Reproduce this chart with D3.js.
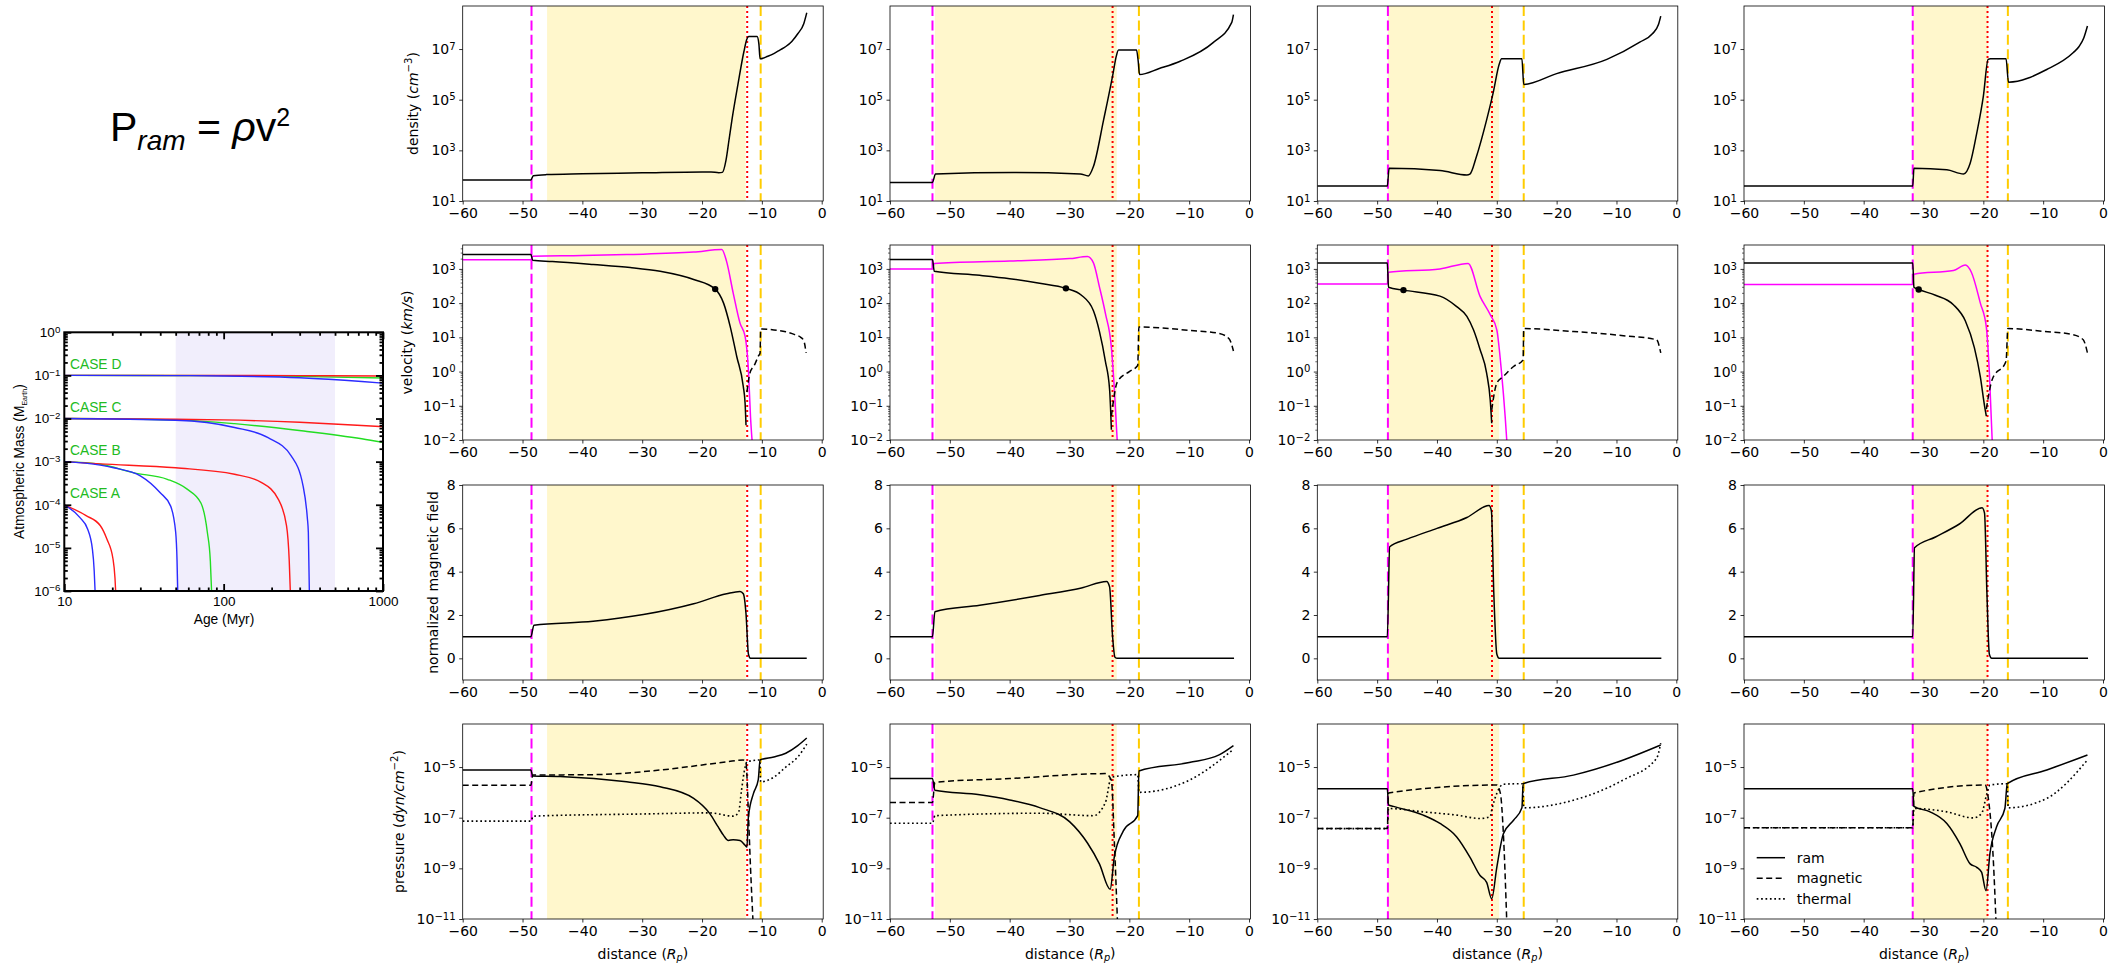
<!DOCTYPE html>
<html><head><meta charset="utf-8">
<script src="https://cdn.jsdelivr.net/npm/d3@7"></script>
<style>
body{margin:0;background:#fff;}
svg{display:block;font-family:"DejaVu Sans",sans-serif;}
</style></head><body>
<svg id="fig" width="2121" height="965"></svg>
<script>
// ---------------- inset: atmospheric mass vs age ----------------
const ageTicks = [10, 100, 1000];
const massTickExp = [0, -1, -2, -3, -4, -5, -6];
const caseNames = ["CASE D", "CASE C", "CASE B", "CASE A"];
const youngAgeBand = [50, 500];

const massDRed   = [[10,0.100],[300,0.099],[1000,0.097]];
const massDGreen = [[10,0.100],[100,0.099],[300,0.095],[1000,0.087]];
const massDBlue  = [[10,0.100],[50,0.099],[100,0.097],[300,0.088],[736,0.072],[1000,0.066]];
const massCRed   = [[10,0.0100],[50,0.0096],[100,0.0093],[300,0.0082],[736,0.0069],[1000,0.0065]];
const massCGreen = [[10,0.0100],[50,0.0093],[117,0.0076],[308,0.0052],[736,0.0034],[1000,0.0028]];
const massCBlue  = [[10,0.0100],[50,0.0091],[117,0.0062],[190,0.0036],[266,0.00135],[315,2.75e-4],[335,5e-5],[340,2.3e-5],[345,1e-6]];
const massBRed   = [[10,1e-3],[16.8,8.9e-4],[50,7.2e-4],[117,5.1e-4],[172,3.3e-4],[220,1.35e-4],[248,3.3e-5],[258,5e-6],[262,1e-6]];
const massBGreen = [[10,1e-3],[16.8,8.7e-4],[27.3,5.5e-4],[44.3,3.9e-4],[59,2.3e-4],[72,1.1e-4],[79,2.3e-5],[82.5,5e-6],[84,1e-6]];
const massBBlue  = [[10,1e-3],[16.8,8.3e-4],[20.4,7.2e-4],[30,4.7e-4],[40,1.9e-4],[46.5,9.3e-5],[50,2.3e-5],[51,5e-6],[51.5,1e-6]];
const massARed   = [[10,1e-4],[13.7,5.6e-5],[16.8,3.3e-5],[18.5,1.6e-5],[20.2,5.6e-6],[20.8,2e-6],[21,1e-6]];
const massABlue  = [[10,1e-4],[12.5,5.1e-5],[14,2.75e-5],[15,9.5e-6],[15.4,3e-6],[15.6,1e-6]];

// ---------------- main grid: profiles along the distance axis ----------------
const xTickVals = [-60, -50, -40, -30, -20, -10, 0];
const densityExp = [1, 3, 5, 7];
const velocityExp = [-2, -1, 0, 1, 2, 3];
const pressureExp = [-11, -9, -7, -5];
const fieldTicks = [0, 2, 4, 6, 8];

// boundary positions for the four cases (A..D)
const shockX    = [-48.5, -52.9, -48.2, -31.8];
const spanStart = [-45.9, -52.5, -48.2, -31.7];
const spanEnd   = [-12.7, -22.1, -29.6, -19.2];
const innerX    = [-12.45, -22.8, -30.8, -19.3];
const outerX    = [-10.2, -18.4, -25.5, -15.9];

// density (cm^-3)
const densA = [[-60,68],[-48.6,68],[-48.2,100],[-46,110],[-40,118],[-30,129],[-20,141],[-18.5,141],[-17.2,130],[-16.6,135],[-16.0,400],[-15.5,2.5e3],[-15.0,1.6e4],[-14.0,4e5],[-13.0,8e6],[-12.5,2.5e7],[-12.2,3.1e7],[-10.8,3.1e7],[-10.5,1.6e7],[-10.3,4.1e6],[-9,5.2e6],[-8,6.6e6],[-7,9.1e6],[-6,1.26e7],[-5,2e7],[-4,4e7],[-3,1e8],[-2.5,2.7e8]];
const densB = [[-60,54],[-52.9,54],[-52.4,117],[-39.4,132],[-28.2,117],[-26.85,98],[-26.0,230],[-24.3,1.6e4],[-22.7,1.15e6],[-22.2,5e6],[-21.8,9.1e6],[-18.8,9.1e6],[-18.5,3e6],[-18.3,9.8e5],[-15,1.7e6],[-11.5,3.3e6],[-6.0,1.8e7],[-2.9,1.1e8],[-2.6,2.3e8]];
const densC = [[-60,39],[-48.3,39],[-48.0,195],[-39.5,160],[-35.0,107],[-34.5,115],[-33.4,575],[-31.7,1.6e4],[-30.6,1.9e5],[-29.6,2.5e6],[-29.2,4.1e6],[-25.8,4.1e6],[-25.5,4e5],[-20,1.07e6],[-11.6,3.9e6],[-6.1,1.86e7],[-4,4e7],[-3,9e7],[-2.6,2e8]];
const densD = [[-60,39],[-31.8,39],[-31.6,195],[-26.1,170],[-23.3,117],[-22.2,309],[-21.1,4.8e3],[-20.0,1.35e5],[-19.2,3.9e6],[-18.8,4.1e6],[-16.2,4.1e6],[-15.8,4.9e5],[-9.4,1.55e6],[-5.0,7.1e6],[-4,1.26e7],[-3.2,2.8e7],[-2.6,8.1e7]];

// velocity (km/s): flow speed, comparison speed (magenta), inner flow (dashed)
const velA = [[-60,2630],[-48.6,2630],[-48.3,1780],[-45,1650],[-38.2,1350],[-32,1100],[-27,850],[-21.4,490],[-17.8,257],[-16.4,100],[-15.3,21],[-14.2,2.75],[-13.1,0.36],[-12.8,0.117],[-12.65,0.027]];
const velB = [[-60,1900],[-52.9,1900],[-52.6,850],[-45,650],[-40,520],[-35,380],[-30.6,270],[-28,170],[-26,60],[-25,15],[-24,2],[-23.3,0.3],[-23.0,0.02]];
const velC = [[-60,1500],[-48.3,1500],[-48.1,290],[-45.6,240],[-39.5,160],[-36.7,79],[-35.0,41],[-33.9,16.6],[-32.8,4.4],[-31.7,0.9],[-31.1,0.148],[-30.85,0.031]];
const velD = [[-60,1500],[-31.8,1500],[-31.6,290],[-30.8,250],[-28,170],[-25,90],[-23,30],[-21.5,5],[-20.5,0.7],[-19.8,0.1],[-19.5,0.05]];
const velDot = [[-17.8,257],[-30.6,270],[-45.6,240],[-30.8,250]];
const velMagA = [[-60,1860],[-48.6,1860],[-48.3,2340],[-40,2450],[-32.6,2630],[-21.4,3100],[-16.7,3700],[-15.9,1660],[-14.8,200],[-13.65,26],[-12.8,10.7],[-12.25,1.1],[-11.9,0.048],[-11.6,0.008]];
const velMagB = [[-60,1000],[-52.9,1000],[-52.6,1450],[-40,1700],[-30,2000],[-27,2300],[-26,1500],[-25,300],[-24,50],[-23,5],[-22.5,0.3],[-22,0.008]];
const velMagC = [[-60,360],[-48.3,360],[-48.1,800],[-39.5,1000],[-34.8,1450],[-32.8,158],[-31.1,46],[-30.0,16.6],[-29.2,0.9],[-28.6,0.048],[-28.3,0.008]];
const velMagD = [[-60,350],[-31.8,350],[-31.6,700],[-25,900],[-23,1300],[-22,800],[-20.5,100],[-19.5,20],[-19,1],[-18.5,0.008]];
const velDashA = [[-12.5,0.25],[-12.0,0.9],[-11.2,1.6],[-10.6,2.8],[-10.3,3.5],[-10.2,17.5],[-8,16.5],[-6,14.5],[-4.5,12],[-3.5,10],[-3.0,8],[-2.6,3.5]];
const velDashB = [[-23,0.05],[-22,0.5],[-20,1.0],[-18.6,1.5],[-18.4,20],[-10,16],[-5,13],[-3.3,9],[-2.6,4]];
const velDashC = [[-30.85,0.076],[-30.0,0.46],[-28.9,0.72],[-27.2,1.41],[-25.6,2.2],[-25.5,18],[-17.2,14.8],[-8.85,11.2],[-3.3,8.5],[-2.6,3.5]];
const velDashD = [[-19.5,0.08],[-18.5,0.6],[-16.2,2],[-15.9,18],[-10,15],[-5,12],[-3.3,8.5],[-2.6,3.5]];

// normalized magnetic field
const fieldA = [[-60,1],[-48.6,1],[-48.1,1.53],[-38.2,1.71],[-29.8,2.02],[-21.4,2.52],[-15.9,2.98],[-13.65,3.09],[-13.1,2.98],[-12.65,2.05],[-12.25,0.2],[-11.9,0],[-2.5,0]];
const fieldB = [[-60,1],[-52.9,1],[-52.5,2.15],[-45,2.45],[-35,2.9],[-28,3.25],[-23.8,3.55],[-23.3,3.3],[-22.8,1.0],[-22.4,0.05],[-22,0],[-2.5,0]];
const fieldC = [[-60,1],[-48.3,1],[-47.9,5.15],[-45,5.5],[-40,6.0],[-35,6.5],[-31.3,7.05],[-30.9,6.8],[-30.5,3],[-30.0,0.2],[-29.6,0],[-2.5,0]];
const fieldD = [[-60,1],[-31.8,1],[-31.5,5.1],[-28,5.6],[-24,6.2],[-20.2,6.95],[-19.8,6.7],[-19.4,3],[-19,0.2],[-18.6,0],[-2.5,0]];

// pressure (dyn/cm^-2): ram, magnetic, thermal
const ramA = [[-60,7.6e-6],[-48.6,7.6e-6],[-48.3,4.4e-6],[-43.7,4.2e-6],[-32.6,2.6e-6],[-27,1.66e-6],[-21.4,5.8e-7],[-18.7,1.45e-7],[-17.3,4.3e-8],[-16.4,2e-8],[-15.6,1.26e-8],[-14.8,1.35e-8],[-13.65,1.26e-8],[-12.8,8.1e-9],[-12.5,6.9e-9],[-12.25,1.07e-7],[-11.4,9.1e-7],[-10.6,3.2e-6],[-10.3,1.9e-5],[-8,2.5e-5],[-6,3.5e-5],[-4,7e-5],[-2.5,1.4e-4]];
const ramB = [[-60,3.5e-6],[-52.9,3.5e-6],[-52.5,1.2e-6],[-45,8e-7],[-40,5e-7],[-35,2.5e-7],[-30,7e-8],[-27,1e-8],[-25,1.5e-9],[-23.2,1.5e-10],[-22.5,3e-9],[-21,3e-8],[-18.6,1.2e-7],[-18.4,7e-6],[-10,1.5e-5],[-5,3e-5],[-2.6,7e-5]];
const ramC = [[-60,1.4e-6],[-48.3,1.4e-6],[-48.1,3.2e-7],[-47.3,2.8e-7],[-42.3,1.26e-7],[-39.5,5.9e-8],[-36.7,1.74e-8],[-34.5,2.8e-9],[-32.8,5.2e-10],[-31.7,2.8e-10],[-30.85,6.3e-11],[-30.0,1.1e-9],[-28.9,2.3e-8],[-27.2,7.9e-8],[-25.8,2.45e-7],[-25.6,2.2e-6],[-17.2,4.8e-6],[-8.85,1.9e-5],[-2.6,7.4e-5]];
const ramD = [[-60,1.4e-6],[-31.8,1.4e-6],[-31.6,2.8e-7],[-28.9,1.7e-7],[-26.1,5.9e-8],[-23.9,9.3e-9],[-22.2,1.5e-9],[-21.1,1.1e-9],[-20.3,7.1e-10],[-19.55,1.3e-10],[-18.9,3.8e-9],[-17.8,4.3e-8],[-16.4,2.3e-7],[-16.0,2.2e-6],[-9.4,7.6e-6],[-2.6,3e-5]];
const magpA = [[-60,1.9e-6],[-48.6,1.9e-6],[-48.3,4.8e-6],[-38.2,5e-6],[-27,7.6e-6],[-15.9,1.6e-5],[-13.1,1.9e-5],[-12.65,1.4e-5],[-12.25,1.45e-7],[-11.9,1.1e-9],[-11.5,1e-11]];
const magpB = [[-60,4e-7],[-52.9,4e-7],[-52.5,2.5e-6],[-40,3.5e-6],[-24,5.5e-6],[-23,3e-6],[-22.5,1e-8],[-22,1e-11]];
const magpC = [[-60,3.7e-8],[-48.3,3.7e-8],[-48.1,9.5e-7],[-30.0,1.95e-6],[-29.4,9.1e-7],[-28.9,2.3e-8],[-28.35,1e-11]];
const magpD = [[-60,4e-8],[-31.8,4e-8],[-31.6,9.5e-7],[-19.7,1.95e-6],[-19.2,6.6e-7],[-18.3,1.5e-9],[-17.9,1e-11]];
const therA = [[-60,7.3e-8],[-48.6,7.3e-8],[-48.2,1.15e-7],[-30,1.4e-7],[-18.7,1.55e-7],[-14.8,1.15e-7],[-13.9,1.6e-7],[-13.4,1.23e-6],[-12.8,1e-5],[-12.5,1.6e-5],[-10.35,1.9e-5],[-10.2,2.6e-6],[-8,4e-6],[-6,1e-5],[-4,2.5e-5],[-2.5,8e-5]];
const therB = [[-60,6e-8],[-52.9,6e-8],[-52.5,1.2e-7],[-35,1.5e-7],[-26,1.2e-7],[-24,4e-7],[-23,4e-6],[-18.6,5e-6],[-18.4,1e-6],[-10,3e-6],[-2.6,5e-5]];
const therC = [[-60,3.7e-8],[-48.3,3.7e-8],[-48.1,2.3e-7],[-42.3,1.7e-7],[-36.7,1.26e-7],[-32.8,9.3e-8],[-31.1,1.1e-7],[-30.85,2e-7],[-30.0,9.1e-7],[-28.9,2.1e-6],[-25.7,2.2e-6],[-25.5,2.45e-7],[-17.2,4.9e-7],[-8.85,3.1e-6],[-3.3,2.2e-5],[-2.6,8.7e-5]];
const therD = [[-60,4e-8],[-31.8,4e-8],[-31.6,2.3e-7],[-26.1,1.7e-7],[-21.7,9.8e-8],[-20.3,1.45e-7],[-19.4,9.1e-7],[-18.9,1.95e-6],[-16.0,2.2e-6],[-15.85,2.45e-7],[-9.4,5.8e-7],[-2.6,1.9e-5]];

const densities = [densA, densB, densC, densD];
const velocities = [velA, velB, velC, velD];
const velMags = [velMagA, velMagB, velMagC, velMagD];
const velDashes = [velDashA, velDashB, velDashC, velDashD];
const fields = [fieldA, fieldB, fieldC, fieldD];
const rams = [ramA, ramB, ramC, ramD];
const magps = [magpA, magpB, magpC, magpD];
const thers = [therA, therB, therC, therD];

const legendNames = ["ram", "magnetic", "thermal"];

// ---------------- drawing ----------------
const svg = d3.select("#fig");
const MINUS = "\u2212";
const fmtExp = e => (e < 0 ? MINUS + Math.abs(e) : String(e));
const DASH = "6,3.5", DOT = "1.7,2.7";

// ---- formula ----
const f = svg.append("text").attr("x", 110).attr("y", 141)
  .attr("font-family", "'Liberation Sans', Arial, sans-serif").attr("font-size", 41).attr("fill", "#000");
f.append("tspan").text("P");
f.append("tspan").attr("font-size", 28).attr("font-style", "italic").attr("dy", 9).text("ram");
f.append("tspan").attr("dy", -9).text(" = ");
f.append("tspan").attr("font-style", "italic").text("\u03C1");
f.append("tspan").text("v");
f.append("tspan").attr("font-size", 25).attr("dy", -15).text("2");

// ---- inset ----
(function drawInset() {
  const fam = "'Liberation Sans', Arial, sans-serif";
  const ix = d3.scaleLog().domain([10, 1000]).range([64.3, 383]);
  const iy = d3.scaleLog().domain([1e-6, 1]).range([591, 332.3]);
  const g = svg.append("g").attr("font-family", fam);
  g.append("rect").attr("x", ix(youngAgeBand[0])).attr("y", iy(1))
    .attr("width", ix(youngAgeBand[1]) - ix(youngAgeBand[0])).attr("height", iy(1e-6) - iy(1))
    .attr("fill", "#f1eefc");
  g.append("clipPath").attr("id", "insetClip").append("rect")
    .attr("x", 64.3).attr("y", 332.3).attr("width", 383 - 64.3).attr("height", 591 - 332.3);
  const line = d3.line().x(d => ix(d[0])).y(d => iy(d[1])).curve(d3.curveMonotoneX);
  const series = [
    [massDGreen, "#22dd22"], [massDRed, "#ff1a1a"], [massDBlue, "#2b2bff"],
    [massCGreen, "#22dd22"], [massCRed, "#ff1a1a"], [massCBlue, "#2b2bff"],
    [massBGreen, "#22dd22"], [massBRed, "#ff1a1a"], [massBBlue, "#2b2bff"],
    [massARed, "#ff1a1a"], [massABlue, "#2b2bff"]
  ];
  const lg = g.append("g").attr("clip-path", "url(#insetClip)");
  series.forEach(([d, c]) => lg.append("path").attr("d", line(d)).attr("fill", "none")
    .attr("stroke", c).attr("stroke-width", 1.4));

  caseNames.forEach((name, i) => {
    g.append("text").attr("x", 70).attr("y", iy(0.141 * Math.pow(10, -i)))
      .attr("font-size", 13.8).attr("fill", "#22bb22").text(name);
  });

  const majorY = massTickExp.map(e => Math.pow(10, e));
  const minorY = [];
  for (let e = -6; e < 0; e++) for (let k = 2; k <= 9; k++) minorY.push(k * Math.pow(10, e));
  const minorX = [];
  for (let e = 1; e < 3; e++) for (let k = 2; k <= 9; k++) minorX.push(k * Math.pow(10, e));

  const tickStyle = s => { s.select(".domain").remove(); s.selectAll("line").attr("stroke", "#000").attr("stroke-width", 1.8); };
  // left
  const la = g.append("g").attr("transform", "translate(64.3,0)")
    .call(d3.axisLeft(iy).tickValues(majorY).tickSize(-7).tickPadding(4).tickFormat(""));
  la.call(tickStyle);
  la.selectAll(".tick text").attr("font-family", fam).attr("font-size", 13.5).attr("fill", "#000")
    .each(function(d) {
      const t = d3.select(this);
      t.append("tspan").text("10");
      t.append("tspan").attr("dy", "-0.45em").attr("font-size", "0.72em").text(fmtExp(Math.round(Math.log10(d))));
    });
  g.append("g").attr("transform", "translate(64.3,0)")
    .call(d3.axisLeft(iy).tickValues(minorY).tickSize(-3.5).tickFormat("")).call(tickStyle);
  // right
  g.append("g").attr("transform", "translate(383,0)")
    .call(d3.axisRight(iy).tickValues(majorY).tickSize(-7).tickFormat("")).call(tickStyle);
  g.append("g").attr("transform", "translate(383,0)")
    .call(d3.axisRight(iy).tickValues(minorY).tickSize(-3.5).tickFormat("")).call(tickStyle);
  // bottom
  const ba = g.append("g").attr("transform", "translate(0,591)")
    .call(d3.axisBottom(ix).tickValues(ageTicks).tickSize(-7).tickPadding(5).tickFormat(d3.format("d")));
  ba.call(tickStyle);
  ba.selectAll(".tick text").attr("font-family", fam).attr("font-size", 13.5).attr("fill", "#000");
  g.append("g").attr("transform", "translate(0,591)")
    .call(d3.axisBottom(ix).tickValues(minorX).tickSize(-3.5).tickFormat("")).call(tickStyle);
  // top
  g.append("g").attr("transform", "translate(0,332.3)")
    .call(d3.axisTop(ix).tickValues(ageTicks).tickSize(-7).tickFormat("")).call(tickStyle);
  g.append("g").attr("transform", "translate(0,332.3)")
    .call(d3.axisTop(ix).tickValues(minorX).tickSize(-3.5).tickFormat("")).call(tickStyle);

  g.append("rect").attr("x", 64.3).attr("y", 332.3).attr("width", 383 - 64.3).attr("height", 591 - 332.3)
    .attr("fill", "none").attr("stroke", "#000").attr("stroke-width", 2);

  g.append("text").attr("x", 224).attr("y", 624).attr("text-anchor", "middle")
    .attr("font-size", 13.8).text("Age (Myr)");
  const yl = g.append("text").attr("transform", "translate(24,461.6) rotate(-90)")
    .attr("text-anchor", "middle").attr("font-size", 13.8);
  yl.append("tspan").text("Atmospheric Mass (M");
  yl.append("tspan").attr("font-size", 7).attr("dy", 3).text("Earth");
  yl.append("tspan").attr("dy", -3).text(")");
})();

// ---- profile grid ----
const colLeft = [462.7, 890, 1317.3, 1744];
const rowTop = [6, 245, 485, 724];
const axW = 360.5, axH = 195;
const x = d3.scaleLinear().domain([-60, 0.25]).range([0, axW]);
const yDens = d3.scaleLog().domain([10, 5e8]).range([axH, 0]);
const yVel = d3.scaleLog().domain([1e-2, 5e3]).range([axH, 0]);
const yB = d3.scaleLinear().domain([-1, 8]).range([axH, 0]);
const yP = d3.scaleLog().domain([1e-11, 5e-4]).range([axH, 0]);
const FS = 14;

function logLabels(sel) {
  sel.selectAll(".tick text").each(function(d) {
    const t = d3.select(this);
    t.append("tspan").text("10");
    t.append("tspan").attr("dy", "-0.42em").attr("font-size", "0.72em").text(fmtExp(Math.round(Math.log10(d))));
  });
}

function styleAxis(s) {
  s.attr("font-family", "'DejaVu Sans', sans-serif").attr("font-size", FS);
  s.select(".domain").remove();
  s.selectAll(".tick line").attr("stroke", "#000").attr("stroke-width", 0.8);
  s.selectAll(".tick text").attr("fill", "#000");
}

function panel(col, row, y, draw, yAxisFn) {
  const g = svg.append("g").attr("transform", `translate(${colLeft[col]},${rowTop[row]})`);
  const cid = `clip${col}${row}`;
  g.append("clipPath").attr("id", cid).append("rect").attr("width", axW).attr("height", axH);
  const inner = g.append("g").attr("clip-path", `url(#${cid})`);
  // shaded interval and boundaries
  inner.append("rect").attr("x", x(spanStart[col])).attr("width", x(spanEnd[col]) - x(spanStart[col]))
    .attr("height", axH).attr("fill", "#fff7cc");
  inner.append("line").attr("x1", x(shockX[col])).attr("x2", x(shockX[col])).attr("y2", axH)
    .attr("stroke", "#ff00ff").attr("stroke-width", 2).attr("stroke-dasharray", "10,4.4");
  inner.append("line").attr("x1", x(innerX[col])).attr("x2", x(innerX[col])).attr("y2", axH)
    .attr("stroke", "#ff0000").attr("stroke-width", 2).attr("stroke-dasharray", "2,3");
  inner.append("line").attr("x1", x(outerX[col])).attr("x2", x(outerX[col])).attr("y2", axH)
    .attr("stroke", "#ffcc00").attr("stroke-width", 2).attr("stroke-dasharray", "10,4.4");
  draw(inner);
  // axes
  const xa = g.append("g").attr("transform", `translate(0,${axH})`)
    .call(d3.axisBottom(x).tickValues(xTickVals).tickSize(3.5).tickPadding(3.5)
      .tickFormat(d => (d < 0 ? MINUS + Math.abs(d) : String(d))));
  xa.call(styleAxis);
  const ya = g.append("g").call(yAxisFn);
  ya.call(styleAxis);
  if (y !== yB) ya.call(logLabels);
  g.append("rect").attr("width", axW).attr("height", axH).attr("fill", "none")
    .attr("stroke", "#000").attr("stroke-width", 0.8);
  return g;
}

const lineOf = y => d3.line().x(d => x(d[0])).y(d => y(d[1])).curve(d3.curveMonotoneX);
function path(sel, data, y, color, dash, w) {
  sel.append("path").attr("d", lineOf(y)(data)).attr("fill", "none").attr("stroke", color)
    .attr("stroke-width", w || 1.5).attr("stroke-dasharray", dash || null).attr("stroke-linejoin", "round");
}

const velMinor = [];
for (let e = -2; e <= 3; e++) for (let k = 2; k <= 9; k++) if (k * Math.pow(10, e) < 5e3) velMinor.push(k * Math.pow(10, e));

for (let c = 0; c < 4; c++) {
  // density
  panel(c, 0, yDens, s => path(s, densities[c], yDens, "#000"),
    s => s.call(d3.axisLeft(yDens).tickValues(densityExp.map(e => Math.pow(10, e))).tickSize(3.5).tickPadding(3.5).tickFormat("")));
  // velocity
  const gv = panel(c, 1, yVel, s => {
    path(s, velMags[c], yVel, "#ff00ff");
    path(s, velocities[c], yVel, "#000");
    path(s, velDashes[c], yVel, "#000", DASH);
    s.append("circle").attr("cx", x(velDot[c][0])).attr("cy", yVel(velDot[c][1])).attr("r", 3.2).attr("fill", "#000");
  }, s => s.call(d3.axisLeft(yVel).tickValues(velocityExp.map(e => Math.pow(10, e))).tickSize(3.5).tickPadding(3.5).tickFormat("")));
  gv.append("g").call(d3.axisLeft(yVel).tickValues(velMinor).tickSize(2).tickFormat(""))
    .call(s => { s.select(".domain").remove(); s.selectAll("line").attr("stroke", "#000").attr("stroke-width", 0.6); });
  // magnetic field
  panel(c, 2, yB, s => path(s, fields[c], yB, "#000"),
    s => s.call(d3.axisLeft(yB).tickValues(fieldTicks).tickSize(3.5).tickPadding(3.5).tickFormat(d3.format("d"))));
  // pressure
  const gp = panel(c, 3, yP, s => {
    path(s, magps[c], yP, "#000", DASH);
    path(s, thers[c], yP, "#000", DOT, 1.6);
    path(s, rams[c], yP, "#000");
  }, s => s.call(d3.axisLeft(yP).tickValues(pressureExp.map(e => Math.pow(10, e))).tickSize(3.5).tickPadding(3.5).tickFormat("")));

  // x label on the bottom row
  const xl = svg.append("text").attr("x", colLeft[c] + axW / 2).attr("y", rowTop[3] + axH + 40)
    .attr("text-anchor", "middle").attr("font-size", FS).attr("fill", "#000");
  xl.append("tspan").text("distance (");
  xl.append("tspan").attr("font-style", "italic").text("R");
  xl.append("tspan").attr("font-style", "italic").attr("font-size", "0.7em").attr("dy", "0.25em").text("p");
  xl.append("tspan").attr("dy", "-0.25em").text(")");

  if (c === 3) {
    const lg = gp.append("g").attr("font-size", FS);
    const dashes = [null, DASH, DOT];
    legendNames.forEach((n, i) => {
      const yy = 133.7 + i * 20.6;
      lg.append("line").attr("x1", 12.7).attr("x2", 41).attr("y1", yy).attr("y2", yy)
        .attr("stroke", "#000").attr("stroke-width", i === 2 ? 1.6 : 1.5).attr("stroke-dasharray", dashes[i]);
      lg.append("text").attr("x", 52.7).attr("y", yy).attr("dy", "0.35em").text(n);
    });
  }
}

// y labels on the first column
const yLabelSpec = [
  [-50, [["density ("], ["cm", "i"], [MINUS + "3", "s"], [")"]]],
  [-56, [["velocity ("], ["km/s", "i"], [")"]]],
  [-30, [["normalized magnetic field"]]],
  [-64, [["pressure ("], ["dyn/cm", "i"], [MINUS + "2", "s"], [")"]]]
];
yLabelSpec.forEach(([dx, parts], r) => {
  const t = svg.append("text")
    .attr("transform", `translate(${colLeft[0] + dx},${rowTop[r] + axH / 2}) rotate(-90)`)
    .attr("text-anchor", "middle").attr("dominant-baseline", "central").attr("font-size", FS).attr("fill", "#000");
  let raised = false;
  parts.forEach(([txt, kind]) => {
    const ts = t.append("tspan").text(txt);
    if (kind === "i") ts.attr("font-style", "italic");
    if (kind === "s") { ts.attr("font-size", "0.72em").attr("dy", "-0.5em"); raised = true; }
    else if (raised) { ts.attr("dy", "0.36em"); raised = false; }
  });
});
</script>
</body></html>
